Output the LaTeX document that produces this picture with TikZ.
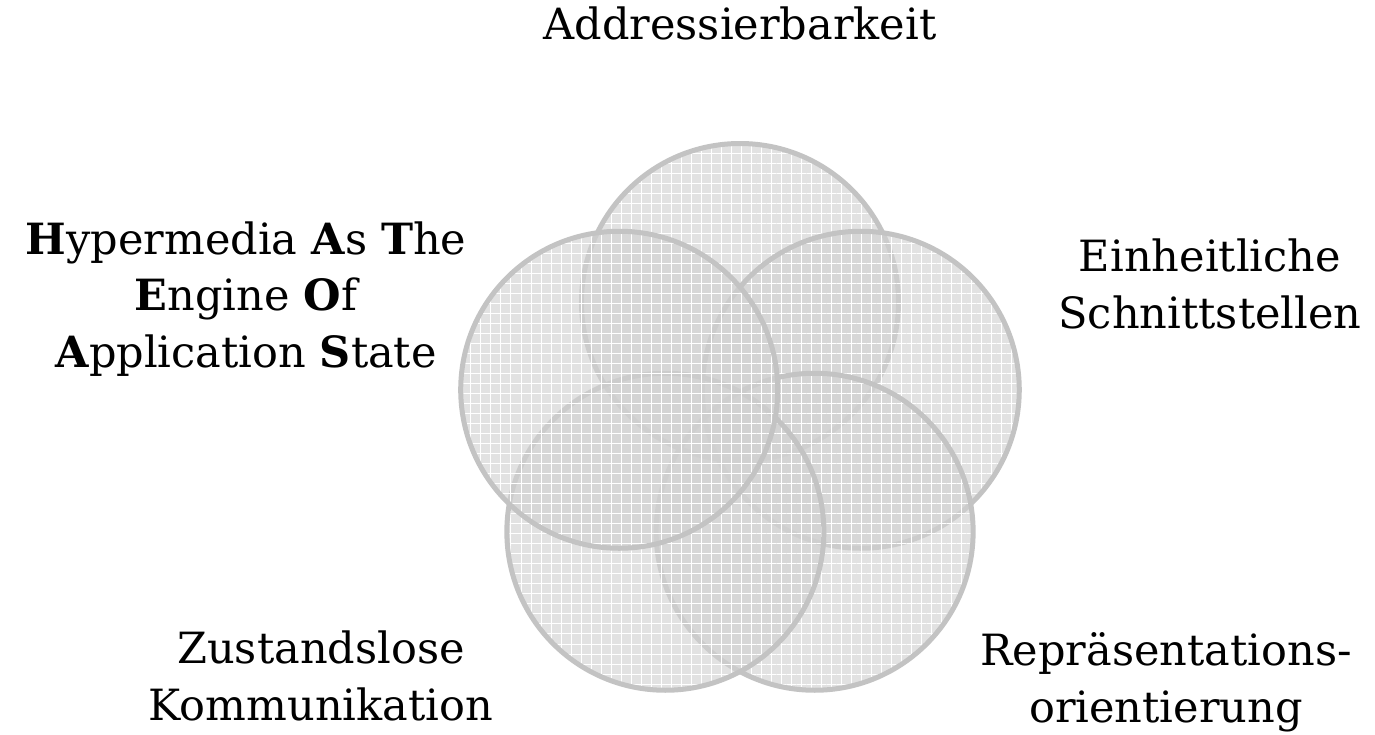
\documentclass[tikz,border=0pt]{standalone}
\usepackage{fontspec}
\setmainfont{DejaVu Serif}
\usepackage{tikz}
\usetikzlibrary{positioning, patterns.meta}
\definecolor{ringline}{RGB}{195,195,195}
\definecolor{ringfill}{RGB}{210,210,210}
\tikzset{
ring/.style={circle, draw=ringline, line width=0.1cm, minimum size=6.34cm, inner sep=0pt,
  preaction={fill=ringfill, fill opacity=0.65},
  preaction={pattern={Hatch[angle=0, distance=5.7pt, line width=0.4pt]}, pattern color=white, fill opacity=0.2}}, % one of the five overlapping rings, with a faint grid
ringtext/.style={font=\fontsize{24.5}{32}\selectfont, align=center, anchor=base}, % the caption of a ring, placed at its last baseline
}

\begin{document}
\begin{tikzpicture}
            \useasboundingbox (-14.8,-6.1) rectangle (12.7,8.58);

            % rings, clockwise from the top
            \node[ring] (adr) at (90:2.54cm) {};
            \node[ring] (uni) at (18:2.54cm) {};
            \node[ring] (rep) at (-54:2.54cm) {};
            \node[ring] (sta) at (-126:2.54cm) {};
            \node[ring] (hat) at (162:2.54cm) {};

            % captions
            \node[ringtext] (adrtext) at (0,7.8) {Addressierbarkeit};
            \node[ringtext] (unitext) at (9.4,2.02) {Einheitliche\\Schnittstellen};
            \node[ringtext] (reptext) at (8.52,-5.86) {Repräsentations-\\orientierung};
            \node[ringtext] (statext) at (-8.38,-5.82) {Zustandslose\\Kommunikation};
            \node[ringtext] (hattext) at (-9.88,1.24) {\textbf{H}ypermedia \textbf{A}s \textbf{T}he\\\textbf{E}ngine \textbf{O}f\\\textbf{A}pplication \textbf{S}tate};
        \end{tikzpicture}
\end{document}
